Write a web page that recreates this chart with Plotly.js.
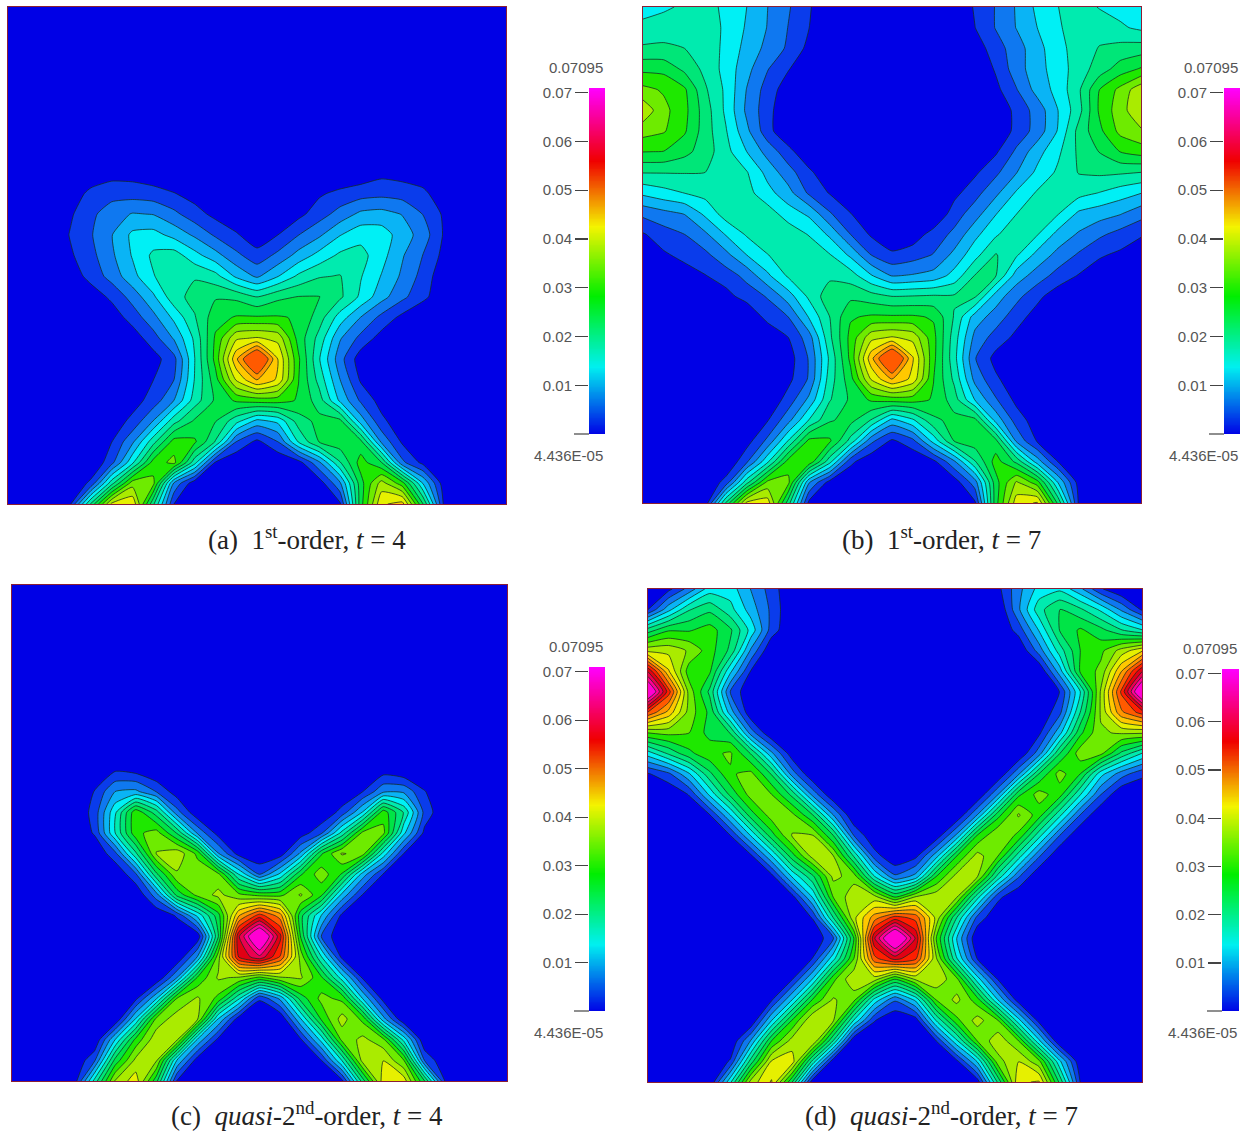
<!DOCTYPE html>
<html>
<head>
<meta charset="utf-8">
<script src="https://cdn.plot.ly/plotly-3.0.1.min.js"></script>
<style>html,body{margin:0;padding:0;background:#fff}#chart{width:1253px;height:1134px}</style>
</head>
<body>
<div id="chart"></div>
<script>
// Field values, in thousandths; rows run top to bottom.
const blank = [0,0,0,0,0,0,0,0,0,0,0,0,0,0,0,0,0,0,0,0,0,0,0,0,0];
const zA = [blank,blank,blank,blank,blank,blank,blank,blank,
[0,0,0,0,1,2,2,1,0,0,0,0,0,0,0,0,0,1,2.5,2,1,0,0,0,0],
[0,0,0,1.5,4.5,5.8,5.5,5,3.7,2,0,0,0,0,1.5,3,4.5,5.5,6,5.5,4.5,1,0,0,0],
[0,0,0,3,6.3,9,10.9,10.5,8,5,2.5,.5,0,.5,2.5,5.5,8.5,11.5,12,10.5,7,3,0,0,0],
[0,0,0,3.8,6.8,10.5,15,15.5,13,10,6.5,4,1,3.5,7,10,14,16.5,16,12.5,9,3.2,0,0,0],
[0,0,0,3,6,10,14.5,18.5,19.5,15.5,12,8,5,8,12,15.5,18.5,19,15.5,11,7,2.5,0,0,0],
[0,0,0,1.5,4.8,8.5,13,17.5,20.5,21,19,13.5,10,14,18.5,21,21.5,18,14,10,5.8,1,0,0,0],
[0,0,0,0,1.5,4.3,8.5,13.5,20,22.5,24.5,24,21.3,24,25,25,22,17,12,8,4.5,1,0,0,0],
[0,0,0,0,0,1.5,5,9.5,15,21,27,28.8,28.9,28.8,28,23,16,10.5,6,2.5,0,0,0,0,0],
[0,0,0,0,0,0,1.5,5.5,11,18.5,29,38.5,39.5,38,27,20,11,6,2,0,0,0,0,0,0],
[0,0,0,0,0,0,0,2,6,17.7,29.6,45.5,58,42.6,29,18,8.5,1.5,0,0,0,0,0,0,0],
[0,0,0,0,0,0,0,3.5,7.1,18,27,39.5,46.5,42,28.5,20,10.7,3,0,0,0,0,0,0,0],
[0,0,0,0,0,0,2,5,10.7,19.5,25.5,29,30,30,28,23,13.5,6.5,2,0,0,0,0,0,0],
[0,0,0,0,0,1.5,4.5,10.8,20,25.5,25,19,13,15,23,26,26,12.5,4.5,1,0,0,0,0,0],
[0,0,0,0,0,3.5,10,20,30,29,21,7,2.5,7,18,25,27,26,10,3,0,0,0,0,0],
[0,0,0,0,0,6,17,30,33,19,3,0,0,0,2,10,21,30,25,8,2.5,0,0,0,0],
[0,0,0,0,4.5,20,34,33,10,1,0,0,0,0,0,1.5,10,27,37,30,14,1.5,0,0,0],
[0,0,0,3,22,40,42,22,3.5,0,0,0,0,0,0,0,3,27,42,44,25,3,0,0,0]];
const zB = [
[16,17,18.5,19,17,14.2,10.7,7.5,4,0,0,0,0,0,0,0,4,7.3,11,15,17.7,19.5,17.5,16.5,15.5],
[19,20,20.5,20,17,13.8,10.5,7,3.6,0,0,0,0,0,0,0,3.5,7.3,10.8,14.2,17.3,19.5,20,18.3,17],
[21.8,21.8,21.3,20,16.8,13,9.6,6.5,2.5,0,0,0,0,0,0,0,1.5,5.5,9,13,16.5,19.5,21.5,22.5,23],
[27.5,27.3,24,20.3,16.5,11.8,7.3,3.8,.5,0,0,0,0,0,0,0,0,4,9,12.8,16,19.5,23,26.5,28.8],
[33,31.5,29,21.8,17,10.5,5.5,1.5,0,0,0,0,0,0,0,0,0,2.5,6.9,12,15.4,20.7,28.4,33,38],
[38,33,29.5,23,17,9.9,5,0,0,0,0,0,0,0,0,0,0,0,4.8,8.5,14.2,20,29,34,38.5],
[33.5,32.3,28.9,23,18,11.5,5,0,0,0,0,0,0,0,0,0,0,0,4.8,8.5,14.5,22.5,27.5,33,35],
[28.5,28.3,26,23,19,14.2,9.3,5,0,0,0,0,0,0,0,0,0,3,7.8,12.8,17,22,25,28.5,30],
[21.5,21.5,21.5,21.3,20,18,13,8.5,4.5,0,0,0,0,0,0,0,2.9,6.3,10.5,15,18.4,21.5,22,21.8,21.3],
[15,16.5,17.8,19,20,19,15.5,12,6.5,3.3,0,0,0,0,0,2.5,5.8,9.8,14.7,18.2,19.5,19,17.6,15.9,14.3],
[8,9.5,10.8,15,19.5,20.2,19.5,16,13.5,7.5,3.7,0,0,0,0,5.3,9,14,17.7,20,18,13.5,12.2,10.9,8.5],
[3.2,5.5,7.1,10,14.5,18.2,20.5,20,17.5,13.5,7.1,3,0,1.5,5,8,13.2,17.2,20.5,18,13,10.2,7.8,5.8,3.9],
[1.5,3,4.6,6.2,9.6,14.2,17.6,20,20.5,18,13.5,7.1,4.4,5.5,7.3,11.7,16.5,21.6,18.2,13,9.5,6.6,4,2.8,1.5],
[0,0,1.8,3.4,5.3,8.2,13.5,18.3,20.8,20.5,19.5,14.5,10.4,11,12,15.5,21.5,21.5,12.5,9,5.7,3.3,1.5,0,0],
[0,0,0,0,2.3,5.1,7.4,12.5,18.5,23.5,24,22.8,21.3,21.5,21.8,21.8,21.8,12.5,8.2,4.5,1.5,0,0,0,0],
[0,0,0,0,0,0,4.9,7.1,14.5,21.3,28,29,29,29,28,21,12.5,9,5,2,0,0,0,0,0],
[0,0,0,0,0,0,0,3.5,9,20.5,29.5,38,39.5,38,29.5,19.5,9.5,5.6,2.6,0,0,0,0,0,0],
[0,0,0,0,0,0,0,1.8,7.4,18.5,29.3,45,58,43,29.4,19,7.3,2.3,0,0,0,0,0,0,0],
[0,0,0,0,0,0,0,2.5,7.5,19.5,27,39.5,46.5,41.5,28.5,20.5,9.5,4.2,1,0,0,0,0,0,0],
[0,0,0,0,0,0,.5,5,11.5,21,25.5,29,30,30,28,23,14,7.5,2.5,0,0,0,0,0,0],
[0,0,0,0,0,.5,3.3,9.5,18,24.5,26,21,13,17,24,26,26,13,5.5,1.5,0,0,0,0,0],
[0,0,0,0,0,2,8,18,29.5,29,20,8,2.8,6,15.5,25,27,26,10,3.2,0,0,0,0,0],
[0,0,0,0,0,6.5,17,30,31,19,4.5,.5,0,0,2.5,10,21,30,24,12.5,3.5,0,0,0,0],
[0,0,0,0,5,20,33,33,11,2,0,0,0,0,0,1.5,9,27,36,30,14,2,0,0,0],
[0,0,0,1,22,40,41,23,2.5,0,0,0,0,0,0,0,3,27,41,43,24,3,0,0,0]];
const zC = [blank,blank,blank,blank,blank,blank,blank,blank,blank,
[0,0,0,0,1,3.4,2.5,0,0,0,0,0,0,0,0,0,0,0,2,.5,0,0,0,0,0],
[0,0,0,0,3.7,10.7,11.5,7,1.5,0,0,0,0,0,0,0,0,3.5,10,10,3.8,0,0,0,0],
[0,0,0,0,5,17,31,23,8.5,.5,0,0,0,0,0,0,5,14.5,30.5,21,6,0,0,0,0],
[0,0,0,0,4,17.7,31,33.5,24.5,10,2,0,0,0,1.5,6.5,19,33,33,15,2.5,0,0,0,0],
[0,0,0,0,0,6,20.5,35.7,38,31,11,2,0,1.5,11.5,28,36,33.5,16.5,3.4,0,0,0,0,0],
[0,0,0,0,0,0,6.5,24,35,34.5,33,17.7,7.1,15,28,34,28,12.5,3.3,0,0,0,0,0,0],
[0,0,0,0,0,0,0,9,26,33,36.5,33,31,31,36,29,13,3.3,0,0,0,0,0,0,0],
[0,0,0,0,0,0,0,0,4,15,27,46,55,48,26,14,2.5,0,0,0,0,0,0,0,0],
[0,0,0,0,0,0,0,0,0,1,24.5,60,76,58,28,7,0,0,0,0,0,0,0,0,0],
[0,0,0,0,0,0,0,0,0,11,34,57,63,53,34,18,2.5,0,0,0,0,0,0,0,0],
[0,0,0,0,0,0,0,0,10.7,29,36,35,31,35,36,29,16,3,0,0,0,0,0,0,0],
[0,0,0,0,0,0,2.5,13.7,32,36,31,18.5,4,11.5,26.5,33,31,14,2,0,0,0,0,0,0],
[0,0,0,0,0,0,14.5,33,37.5,35.7,14,1.5,0,0,14,29,37,31,12,0,0,0,0,0,0],
[0,0,0,0,0,14.2,29.5,38,36,13.5,2.5,0,0,0,3,15.5,33,36.5,33,16.5,0,0,0,0,0],
[0,0,0,0,6.5,26,36.5,36,14,1.5,0,0,0,0,0,3.5,18,37,39,32,7,0,0,0,0],
[0,0,0,1,19,36,41,26,3,0,0,0,0,0,0,0,2.5,23,41,41,25,3.3,0,0,0]];
const zD = [
[0,2.5,8.5,16,16,10.5,5.5,0,0,0,0,0,0,0,0,0,0,2.5,9.5,15.5,17,11.5,4,0,0],
[3.5,13,21,24,19,12.5,6.3,0,0,0,0,0,0,0,0,0,0,0,10,20,25,22,17,10,3],
[23,28,28,30,25.5,16.5,5.5,0,0,0,0,0,0,0,0,0,0,0,5,14.5,25,29,26,21.5,18],
[38,38,35,30,24,10,0,0,0,0,0,0,0,0,0,0,0,0,0,8.7,19.5,28.4,31,37,42],
[60,43,30,29,15,3.3,0,0,0,0,0,0,0,0,0,0,0,0,0,0,12.5,29,33,46,60],
[75,55,34,24,7,0,0,0,0,0,0,0,0,0,0,0,0,0,0,0,3.6,17.7,36,54,75],
[53,45,34,27.5,12.5,.5,0,0,0,0,0,0,0,0,0,0,0,0,0,0,6,21.3,36,49,55],
[32,33,32,27,24.7,9,0,0,0,0,0,0,0,0,0,0,0,0,0,2.7,13,27.5,35,36,36],
[16,22,27.5,31,32.5,24.5,11.5,1.2,0,0,0,0,0,0,0,0,0,0,0,9,24.7,34,33,24,17.7],
[3.2,6.3,13.8,24,31.5,33,24.5,9,0,0,0,0,0,0,0,0,0,0,10,25,33.5,28.4,15.5,8.8,4.5],
[0,0,3.8,15,25.8,33.5,32,23.8,9.5,0,0,0,0,0,0,0,0,10.5,27.5,33.5,30,18,7.2,0,0],
[0,0,0,3.4,14.2,26.7,33.8,33,24.9,10.7,0,0,0,0,0,0,10.8,27,36,30,18.7,7,0,0,0],
[0,0,0,0,3.5,14.5,26.8,35.8,35.7,24.9,7.1,0,0,0,1,11.5,28.7,35.5,31,19,7.1,0,0,0,0],
[0,0,0,0,0,2.7,13.9,26.8,37,35.7,20.9,5.3,0,2.5,12.7,28.4,37,32,19.4,7.5,0,0,0,0,0],
[0,0,0,0,0,0,2,14.5,24,36.5,34,18,7.8,12,28.4,37,35.7,20,7.5,0,0,0,0,0,0],
[0,0,0,0,0,0,0,2,14.5,32,38,37,28.4,36,38,35.7,19,4.6,0,0,0,0,0,0,0],
[0,0,0,0,0,0,0,0,3.8,21.3,38,48,55,52,38,21.3,6,0,0,0,0,0,0,0,0],
[0,0,0,0,0,0,0,0,0,6.8,28.4,60,77,60,32,14,0,0,0,0,0,0,0,0,0],
[0,0,0,0,0,0,0,0,3.7,16.5,32,52,58,54,36,18,3.4,0,0,0,0,0,0,0,0],
[0,0,0,0,0,0,0,3.3,14.5,31,38.5,37,28,36,38,33,16,3.3,0,0,0,0,0,0,0],
[0,0,0,0,0,0,3,14.2,28.8,36,33,16.5,7.6,15,32,36.5,30,14.2,1.5,0,0,0,0,0,0],
[0,0,0,0,0,0,14,28.6,39,36,17.5,3.8,0,1.5,18,31,37,32,15.5,2,0,0,0,0,0],
[0,0,0,0,0,11,28.4,37,39,21,0,0,0,0,3.5,17,32,38,32,15,0,0,0,0,0],
[0,0,0,0,4,23,39.5,41,20,1,0,0,0,0,0,2.5,14.5,34,39,33,15,.5,0,0,0],
[0,0,0,0,17,37,43,25,1,0,0,0,0,0,0,0,1.5,22,42,43,24,3.4,0,0,0]];

const panelFields = [zA, zB, zC, zD];
const topLevel = [14, 14, 19, 19];
const captions = [
  '(a)  1<sup>st</sup>-order, <i>t</i> = 4',
  '(b)  1<sup>st</sup>-order, <i>t</i> = 7',
  '(c)  <i>quasi</i>-2<sup>nd</sup>-order, <i>t</i> = 4',
  '(d)  <i>quasi</i>-2<sup>nd</sup>-order, <i>t</i> = 7'
];
const barTicks = [0.01,0.02,0.03,0.04,0.05,0.06,0.07];
const barTickText = ['0.01','0.02','0.03','0.04','0.05','0.06','0.07'];
const fieldMax = 0.07095, fieldMin = 4.436e-5, levelStep = 0.00355;
const maxLabel = '0.07095', minLabel = '4.436E-05';
const bandColors = ['#0000e6','#0a3ceb','#0f78f0','#0ab4f5','#00f0f5','#00ebaf','#00e678','#00e446',
  '#1ee800','#6eeb00','#aaeb00','#e6f000','#ffc800','#ff9600','#ff5a00','#ff1e00','#e10014','#eb0050','#ff0096','#ff00d2'];

const W = 1253, H = 1134;
const frames = [
  {x:[8,506],  y:[7,504],   bx:[589,605],  by:[88,434]},
  {x:[643,1141],y:[7,503],  bx:[1224,1240],by:[88,434]},
  {x:[12,507], y:[585,1081],bx:[589,605],  by:[667,1011]},
  {x:[648,1142],y:[589,1082],bx:[1222,1239],by:[669,1011]}
];
const capPos = [[307,538],[941,538],[307,1114],[941,1114]];
const barScale = [
  [0,'#0000e6'],[0.195,'#00f0f0'],[0.40,'#00ee00'],[0.60,'#f4f400'],
  [0.79,'#f00000'],[1,'#ff00ff']
];

const dx = a => [a[0]/W, a[1]/W];
const dy = a => [1-a[1]/H, 1-a[0]/H];
const frameColor = '#8a1f35';
const labelFont = {family:'Liberation Sans, Arial, sans-serif', size:15, color:'#555'};
const traces = [], annotations = [], shapes = [];
const layout = {width:W, height:H, margin:{l:0,r:0,t:0,b:0}, paper_bgcolor:'#fff', plot_bgcolor:'#fff', showlegend:false, annotations, shapes};

panelFields.forEach((zT, i) => {
  const f = frames[i];
  const a1 = 2*i+1, a2 = 2*i+2;
  const z = zT.map(r => r.map(v => v/1000));
  const nc = topLevel[i];
  // Plotly spreads the colorscale over the levels that are drawn: band k sits at k/nc.
  const bandScale = [];
  for (let k = 0; k <= nc; k++) bandScale.push([k/nc, bandColors[k]]);
  traces.push({type:'contour', z, xaxis:'x'+a1, yaxis:'y'+a1, showscale:false, hoverinfo:'skip',
    autocontour:false, colorscale:bandScale,
    contours:{coloring:'fill', start:levelStep, end:levelStep*nc+levelStep/10, size:levelStep, showlines:true},
    line:{color:'rgba(20,45,30,0.85)', width:0.9, smoothing:0.5}});
  const hidden = {showgrid:false, zeroline:false, showticklabels:false, ticks:''};
  layout['xaxis'+a1] = Object.assign({}, hidden, {domain:dx(f.x), range:[0,24], anchor:'y'+a1, showline:true, mirror:true, linecolor:frameColor, linewidth:1.2});
  layout['yaxis'+a1] = Object.assign({}, hidden, {domain:dy(f.y), range:[24,0], anchor:'x'+a1, showline:true, mirror:true, linecolor:frameColor, linewidth:1.2});

  const ramp = [];
  for (let k = 0; k <= 200; k++) ramp.push(fieldMin + (fieldMax-fieldMin)*k/200);
  traces.push({type:'heatmap', y:ramp, x:[0,1], z:ramp.map(v => [v,v]), xaxis:'x'+a2, yaxis:'y'+a2,
    showscale:false, hoverinfo:'skip', zauto:false, zmin:0, zmax:fieldMax, colorscale:barScale, zsmooth:'best'});
  layout['xaxis'+a2] = Object.assign({}, hidden, {domain:dx(f.bx), range:[0,1], anchor:'y'+a2});
  layout['yaxis'+a2] = {domain:dy(f.by), range:[fieldMin,fieldMax], anchor:'x'+a2, side:'left',
    showgrid:false, zeroline:false, tickmode:'array', tickvals:barTicks, ticktext:barTickText,
    ticks:'outside', ticklen:13, tickcolor:'#444', tickwidth:1.2, tickfont:labelFont};
  shapes.push({type:'line', xref:'paper', yref:'paper', x0:(f.bx[0]-15)/W, x1:f.bx[0]/W, y0:1-f.by[1]/H, y1:1-f.by[1]/H, line:{color:'#444', width:1.2}});
  const lab = {xref:'paper', yref:'paper', xanchor:'right', yanchor:'middle', showarrow:false, font:labelFont};
  annotations.push(Object.assign({}, lab, {x:f.bx[1]/W, y:1-(f.by[0]-21)/H, text:maxLabel}));
  annotations.push(Object.assign({}, lab, {x:f.bx[1]/W, y:1-(f.by[1]+21)/H, text:minLabel}));
  annotations.push({xref:'paper', yref:'paper', x:capPos[i][0]/W, y:1-capPos[i][1]/H, xanchor:'center', yanchor:'middle', showarrow:false, text:captions[i], font:{family:'Liberation Serif, Times New Roman, serif', size:27, color:'#222'}});
});

Plotly.newPlot('chart', traces, layout, {displayModeBar:false, staticPlot:true});
</script>
</body>
</html>
